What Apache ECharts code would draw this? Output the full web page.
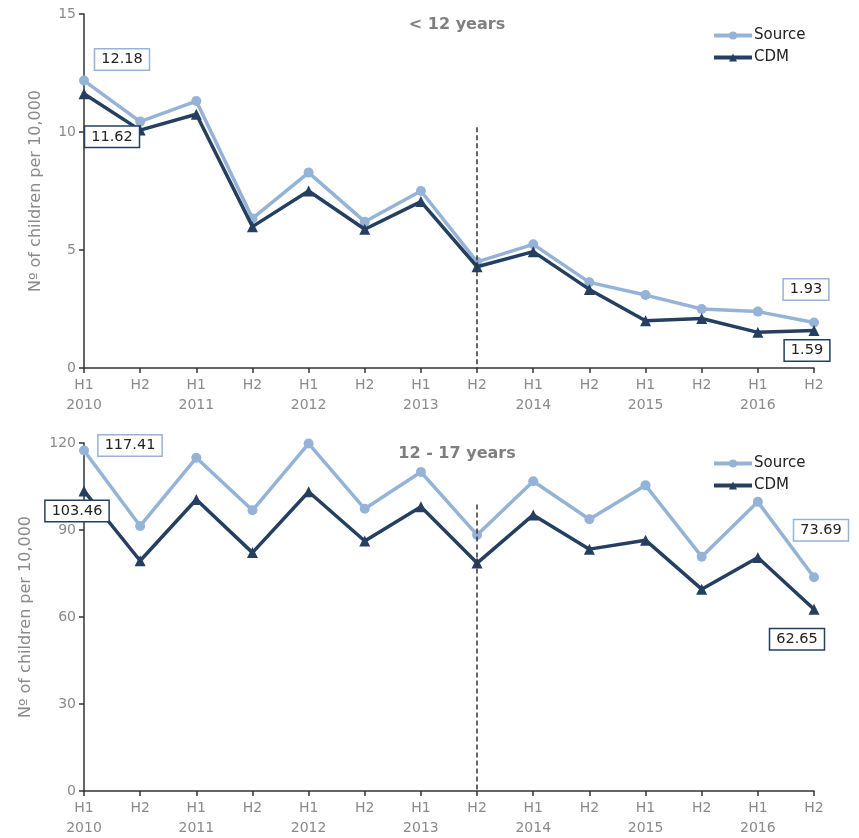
<!DOCTYPE html>
<html>
<head>
<meta charset="utf-8">
<script src="https://cdn.jsdelivr.net/npm/echarts@6/dist/echarts.min.js"></script>
<style>
html,body{margin:0;padding:0;background:#fff;}
#c{width:859px;height:838px;}
</style>
</head>
<body>
<div id="c"></div>
<script>
const categories = ['H1\n2010','H2','H1\n2011','H2','H1\n2012','H2','H1\n2013','H2','H1\n2014','H2','H1\n2015','H2','H1\n2016','H2'];
const under12Source = [12.18,10.44,11.31,6.34,8.28,6.2,7.5,4.5,5.24,3.63,3.09,2.5,2.39,1.93];
const under12CDM    = [11.62,10.08,10.75,5.99,7.5,5.88,7.05,4.29,4.93,3.33,2.0,2.1,1.51,1.59];
const age12to17Source = [117.41,91.4,114.9,96.8,119.8,97.3,110.0,88.3,106.8,93.7,105.4,80.8,99.7,73.69];
const age12to17CDM    = [103.46,79.4,100.5,82.2,103.2,86.2,98.0,78.6,95.2,83.4,86.5,69.6,80.5,62.65];
const titles = ['< 12 years','12 - 17 years'];
const seriesNames = ['Source','CDM'];
const yAxisName = 'Nº of children per 10,000';
const dividerIndex = 7;

const FONT = 'DejaVu Sans';
const C_SRC = '#95b3d7';
const C_CDM = '#243f60';

function labelled(values, color, marks) {
  return values.map((v, i) => {
    const m = marks[i];
    if (!m) return v;
    return {
      value: v,
      label: {
        show: true, position: 'inside', offset: m,
        formatter: p => p.value.toFixed(2),
        color: '#222', fontFamily: FONT, fontSize: 14.5,
        backgroundColor: '#fff', borderColor: color, borderWidth: 1.5,
        padding: [3, 6, 2, 6]
      }
    };
  });
}

function lineSeries(name, values, gi, color, symbol, marks) {
  return {
    name, type: 'line', xAxisIndex: gi, yAxisIndex: gi,
    data: labelled(values, color, marks),
    symbol, symbolSize: symbol === 'circle' ? 10 : 11,
    lineStyle: { color, width: 3.5 },
    itemStyle: { color },
    label: { show: false },
    emphasis: { disabled: true },
    z: name === 'Source' ? 3 : 4,
    animation: false
  };
}

function xAx(gi) {
  return {
    type: 'category', gridIndex: gi, data: categories, boundaryGap: false,
    axisLine: { lineStyle: { color: '#333', width: 1.5 } },
    axisTick: { alignWithLabel: true, length: 5, lineStyle: { color: '#333', width: 1.5 } },
    axisLabel: { color: '#8a8a8a', fontFamily: FONT, fontSize: 14, lineHeight: 20, margin: 7, interval: 0 },
    splitLine: { show: false }
  };
}
function yAx(gi, max, interval, gap) {
  return {
    type: 'value', gridIndex: gi, min: 0, max, interval,
    name: yAxisName, nameLocation: 'middle', nameGap: gap,
    nameTextStyle: { color: '#8a8a8a', fontFamily: FONT, fontSize: 16 },
    axisLine: { show: true, lineStyle: { color: '#333', width: 1.5 } },
    axisTick: { show: true, length: 5, lineStyle: { color: '#333', width: 1.5 } },
    axisLabel: { color: '#8a8a8a', fontFamily: FONT, fontSize: 14, margin: 8 },
    splitLine: { show: false }
  };
}

function divider(gi, topVal) {
  return {
    type: 'line', xAxisIndex: gi, yAxisIndex: gi, data: [], silent: true,
    markLine: {
      symbol: 'none', silent: true, animation: false,
      lineStyle: { color: '#333', type: [5, 3], width: 1.5 },
      label: { show: false },
      data: [[{ coord: [dividerIndex, topVal] }, { coord: [dividerIndex, 0] }]]
    }
  };
}

function legendAt(top) {
  return {
    data: seriesNames, left: 707, top, orient: 'vertical', itemWidth: 38, itemHeight: 10, itemGap: 7,
    lineStyle: { width: 4 },
    textStyle: { color: '#222', fontFamily: FONT, fontSize: 15, padding: [0, 0, 0, -3] }
  };
}

const chart = echarts.init(document.getElementById('c'), null, { renderer: 'canvas' });
chart.setOption({
  backgroundColor: '#fff',
  animation: false,
  title: [
    { text: titles[0], left: 452, top: 12, textAlign: 'center',
      textStyle: { color: '#7f7f7f', fontFamily: FONT, fontSize: 16, fontWeight: 'bold' } },
    { text: titles[1], left: 452, top: 441, textAlign: 'center',
      textStyle: { color: '#7f7f7f', fontFamily: FONT, fontSize: 16, fontWeight: 'bold' } }
  ],
  legend: [legendAt(23), legendAt(451)],
  grid: [
    { left: 84, right: 45, top: 14, height: 354 },
    { left: 84, right: 45, top: 443, height: 350 }
  ],
  xAxis: [xAx(0), xAx(1)],
  yAxis: [yAx(0, 15, 5, 40), yAx(1, 120, 30, 50)],
  series: [
    lineSeries('Source', under12Source, 0, C_SRC, 'circle', { 0: [38, -21], 13: [-8, -33] }),
    lineSeries('CDM', under12CDM, 0, C_CDM, 'triangle', { 0: [28, 43], 13: [-7, 20] }),
    lineSeries('Source', age12to17Source, 1, C_SRC, 'circle', { 0: [46, -5], 13: [7, -47] }),
    lineSeries('CDM', age12to17CDM, 1, C_CDM, 'triangle', { 0: [-7, 20], 13: [-17, 30] }),
    divider(0, 10.2),
    divider(1, 98.8)
  ]
});
</script>
</body>
</html>
